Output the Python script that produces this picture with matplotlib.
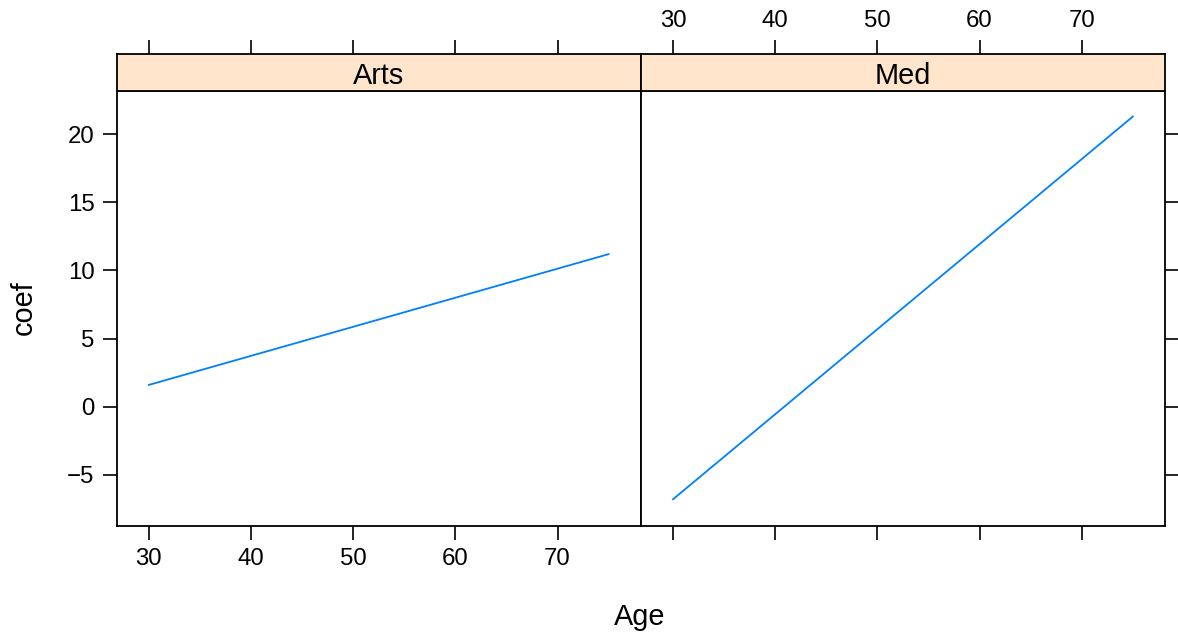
import matplotlib
matplotlib.use("Agg")
import matplotlib.pyplot as plt

plt.rcParams['font.family'] = ['Liberation Sans', 'DejaVu Sans']

panels = ["Arts", "Med"]
age = [30, 75]
arts_coef = [1.6, 11.2]
med_coef = [-6.8, 21.3]
series = {"Arts": arts_coef, "Med": med_coef}
x_ticks = [30, 40, 50, 60, 70]
y_ticks = [-5, 0, 5, 10, 15, 20]
y_tick_labels = ["\u22125", "0", "5", "10", "15", "20"]

W, H = 1178, 633
fig = plt.figure(figsize=(W / 100, H / 100), dpi=100)

def fx(px):
    return px / W

def fy(py):
    return 1 - py / H

left0, mid, right1 = 116.7, 640.8, 1165.0
ptop, pbot = 90.7, 526.0
stop = 54.3

xlim = (26.85, 78.15)
ylim = (-8.76, 23.2)
line_color = "#0080FF"
strip_color = "#FFE5CC"
lw_frame = 1.3
tick_kw = dict(length=10, width=1.2, colors="black", labelsize=17.3, pad=6)

bounds = [(left0, mid), (mid, right1)]
for i, name in enumerate(panels):
    x0, x1 = bounds[i]
    ax = fig.add_axes([fx(x0), fy(pbot), fx(x1 - x0), fy(ptop) - fy(pbot)])
    st = fig.add_axes([fx(x0), fy(ptop), fx(x1 - x0), fy(stop) - fy(ptop)], sharex=ax)
    ax.plot(age, series[name], color=line_color, lw=1.3)
    ax.set_xlim(*xlim)
    ax.set_ylim(*ylim)
    ax.set_xticks(x_ticks)
    ax.set_yticks(y_ticks)
    ax.set_yticklabels(y_tick_labels)
    for sp in ax.spines.values():
        sp.set_linewidth(lw_frame)
    for sp in st.spines.values():
        sp.set_linewidth(lw_frame)
    st.set_facecolor(strip_color)
    st.set_yticks([])
    st.text(0.5, 0.184, name, transform=st.transAxes, ha="center", va="baseline", fontsize=20.8)
    if i == 0:
        ax.tick_params(axis="x", which="both", bottom=True, top=False, labelbottom=True, direction="out", **tick_kw)
        ax.tick_params(axis="y", which="both", left=True, right=False, labelleft=True, direction="out", **tick_kw)
        st.tick_params(axis="x", which="both", bottom=False, top=True, labelbottom=False, labeltop=False, direction="out", **tick_kw)
    else:
        ax.tick_params(axis="x", which="both", bottom=True, top=False, labelbottom=False, direction="out", **tick_kw)
        ax.tick_params(axis="y", which="both", left=False, right=True, labelleft=False, labelright=False, direction="out", **tick_kw)
        st.tick_params(axis="x", which="both", bottom=False, top=True, labelbottom=False, labeltop=True, direction="out", **tick_kw)

fig.text(fx(640), fy(625), "Age", ha="center", va="baseline", fontsize=20.8)
fig.text(fx(24), fy(308), "coef", ha="center", va="center", rotation=90, fontsize=20.8)

fig.savefig("out.png", dpi=100, facecolor="white")
